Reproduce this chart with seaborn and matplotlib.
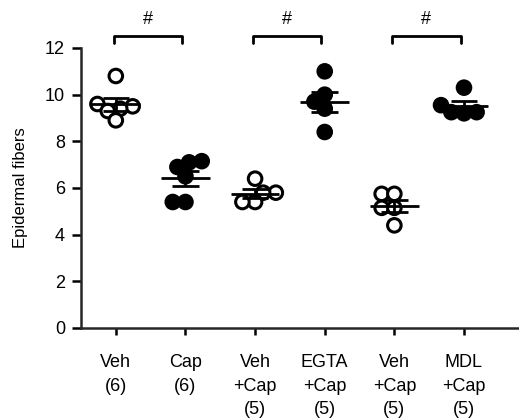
import numpy as np
import pandas as pd
import matplotlib
matplotlib.use('Agg')
import matplotlib.pyplot as plt
import seaborn as sns

# values
groups = ['Veh', 'Cap', 'Veh+Cap A', 'EGTA+Cap', 'Veh+Cap B', 'MDL+Cap']
tick_labels = ['Veh\n(6)', 'Cap\n(6)', 'Veh\n+Cap\n(5)', 'EGTA\n+Cap\n(5)',
               'Veh\n+Cap\n(5)', 'MDL\n+Cap\n(5)']
fills = ['open', 'filled', 'open', 'filled', 'open', 'filled']
veh = [10.8, 9.6, 9.5, 9.4, 9.3, 8.9]
cap = [7.15, 7.1, 6.9, 6.5, 5.4, 5.4]
veh_cap_egta = [6.4, 5.8, 5.8, 5.4, 5.4]
egta_cap = [11.0, 10.0, 9.7, 9.4, 8.4]
veh_cap_mdl = [5.75, 5.75, 5.15, 5.15, 4.4]
mdl_cap = [10.3, 9.55, 9.25, 9.25, 9.2]
pairs = [(0, 1), (2, 3), (4, 5)]
pair_marks = ['#', '#', '#']

values = [veh, cap, veh_cap_egta, egta_cap, veh_cap_mdl, mdl_cap]
rows = []
for g, f, vals in zip(groups, fills, values):
    for v in vals:
        rows.append({'group': g, 'fill': f, 'value': v})
df = pd.DataFrame(rows)

sns.set_style('ticks')
plt.rcParams['font.family'] = ['Liberation Sans', 'DejaVu Sans']
plt.rcParams['text.color'] = 'black'
plt.rcParams['axes.labelcolor'] = 'black'
plt.rcParams['xtick.color'] = 'black'
plt.rcParams['ytick.color'] = 'black'

fig = plt.figure(figsize=(5.19, 4.18), dpi=100)
ax = fig.add_axes([81 / 519, 90 / 418, 1 - 81 / 519, (328 - 48) / 418])

# swarm laid out with small markers, then enlarged so they overlap like the original
sns.swarmplot(data=df, x='group', y='value', hue='fill', order=groups,
              palette={'open': 'white', 'filled': 'black'},
              edgecolor='black', linewidth=2.2, size=6.5, legend=False,
              ax=ax, zorder=3, clip_on=False)
ax.set_ylim(0, 12)
ax.set_xlim(-0.5, 5.79)
fig.canvas.draw()
for c in ax.collections:
    if 'draw' in c.__dict__:
        del c.draw  # freeze the swarm positions
    c.set_sizes([95])

# mean +/- SEM
stats = df.groupby('group', sort=False)['value'].agg(['mean', 'sem']).reindex(groups)
for i, (m, se) in enumerate(zip(stats['mean'], stats['sem'])):
    ax.hlines(m, i - 0.35, i + 0.35, color='black', lw=2, zorder=4)
    ax.vlines(i, m - se, m + se, color='black', lw=2, zorder=4)
    ax.hlines([m - se, m + se], i - 0.19, i + 0.19, color='black', lw=2, zorder=4)

# significance brackets
for (a, b), mark in zip(pairs, pair_marks):
    ax.plot([a - 0.03, a - 0.03, b - 0.05, b - 0.05], [12.2, 12.52, 12.52, 12.2],
            color='black', lw=2, clip_on=False)
    ax.text((a + b) / 2 - 0.04, 12.85, mark, ha='center', va='bottom', fontsize=13)

ax.set_yticks(range(0, 13, 2))
ax.set_xticks(range(len(groups)))
ax.set_xticklabels(tick_labels, fontsize=13, linespacing=1.5, va='top')
ax.tick_params(axis='y', labelsize=13, length=6.5, width=1.8, pad=5)
ax.tick_params(axis='x', length=5, width=1.8, pad=14)
ax.set_xlabel('')
ax.set_ylabel('Epidermal fibers', fontsize=12, labelpad=12)
for s in ['left', 'bottom']:
    ax.spines[s].set_linewidth(1.8)
ax.spines['top'].set_visible(False)
ax.spines['right'].set_visible(False)

fig.savefig('out.png', dpi=100)
